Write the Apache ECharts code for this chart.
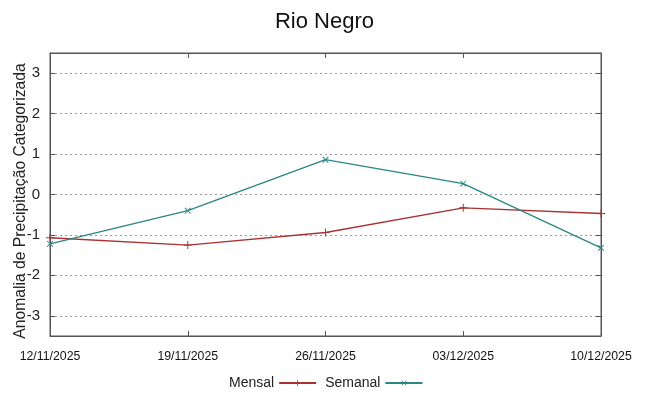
<!DOCTYPE html>
<html>
<head>
<meta charset="utf-8">
<script src="https://cdn.jsdelivr.net/npm/echarts@6/dist/echarts.min.js"></script>
<style>
  html, body { margin: 0; padding: 0; background: #fff; }
  #chart { width: 649px; height: 396px; }
</style>
</head>
<body>
<div id="chart"></div>
<script>
var dates = ['12/11/2025', '19/11/2025', '26/11/2025', '03/12/2025', '10/12/2025'];
var mensal = [-1.07, -1.25, -0.94, -0.33, -0.47];
var semanal = [-1.22, -0.40, 0.86, 0.27, -1.32];
var yTicks = [-3, -2, -1, 0, 1, 2, 3];

var chart = echarts.init(document.getElementById('chart'));

var plusPath = 'path://M4.4,0H5.6V4.4H10V5.6H5.6V10H4.4V5.6H0V4.4H4.4Z';
var font = 'Liberation Sans';

var option = {
    animation: false,
    textStyle: { fontFamily: font },
    title: {
        text: 'Rio Negro',
        left: 'center',
        top: 6,
        textStyle: { fontFamily: font, fontSize: 22, fontWeight: 'normal', color: '#111' }
    },
    legend: {
        left: 224,
        top: 371,
        align: 'right',
        itemWidth: 37,
        itemHeight: 8,
        itemGap: 8,
        textStyle: { fontFamily: font, fontSize: 14, color: '#222' },
        data: ['Mensal', 'Semanal']
    },
    grid: {
        left: 50, right: 48, top: 53, bottom: 60,
        outerBoundsMode: 'none',
        show: true, borderColor: '#555', borderWidth: 1
    },
    xAxis: [{
        type: 'category',
        data: dates,
        boundaryGap: false,
        axisLine: { onZero: false, lineStyle: { color: '#555' } },
        axisTick: { inside: true, length: 5, lineStyle: { color: '#555' } },
        axisLabel: { fontFamily: font, fontSize: 12.3, color: '#111', margin: 15 },
        splitLine: { show: false }
    }, {
        type: 'category',
        data: dates,
        boundaryGap: false,
        position: 'top',
        axisLine: { onZero: false, lineStyle: { color: '#555' } },
        axisTick: { inside: true, length: 5, lineStyle: { color: '#555' } },
        axisLabel: { show: false },
        splitLine: { show: false }
    }],
    yAxis: [{
        type: 'value',
        min: -3.5,
        max: 3.5,
        name: 'Anomalia de Precipitação Categorizada',
        nameLocation: 'middle',
        nameGap: 21,
        nameMoveOverlap: false,
        nameTextStyle: { fontFamily: font, fontSize: 15.7, color: '#222', padding: [0, 13, 0, 0] },
        axisLine: { show: true, lineStyle: { color: '#555' } },
        axisTick: { show: true, inside: true, length: 5, customValues: yTicks, lineStyle: { color: '#555' } },
        axisLabel: { fontFamily: font, fontSize: 15, color: '#222', margin: 10, customValues: yTicks },
        splitLine: { show: true, lineStyle: { color: '#999', type: [2, 3], width: 1 } }
    }, {
        type: 'value',
        min: -3.5,
        max: 3.5,
        position: 'right',
        axisLine: { show: true, lineStyle: { color: '#555' } },
        axisTick: { show: true, inside: true, length: 5, customValues: yTicks, lineStyle: { color: '#555' } },
        axisLabel: { show: false },
        splitLine: { show: false }
    }],
    series: [{
        name: 'Mensal',
        type: 'line',
        data: mensal,
        symbol: plusPath,
        symbolSize: 8,
        itemStyle: { color: '#a83232' },
        lineStyle: { color: '#a83232', width: 1.3 }
    }, {
        name: 'Semanal',
        type: 'line',
        data: semanal,
        symbol: plusPath,
        symbolSize: 8,
        symbolRotate: 45,
        itemStyle: { color: '#2a8585' },
        lineStyle: { color: '#2a8585', width: 1.3 }
    }]
};

chart.setOption(option);
</script>
</body>
</html>
